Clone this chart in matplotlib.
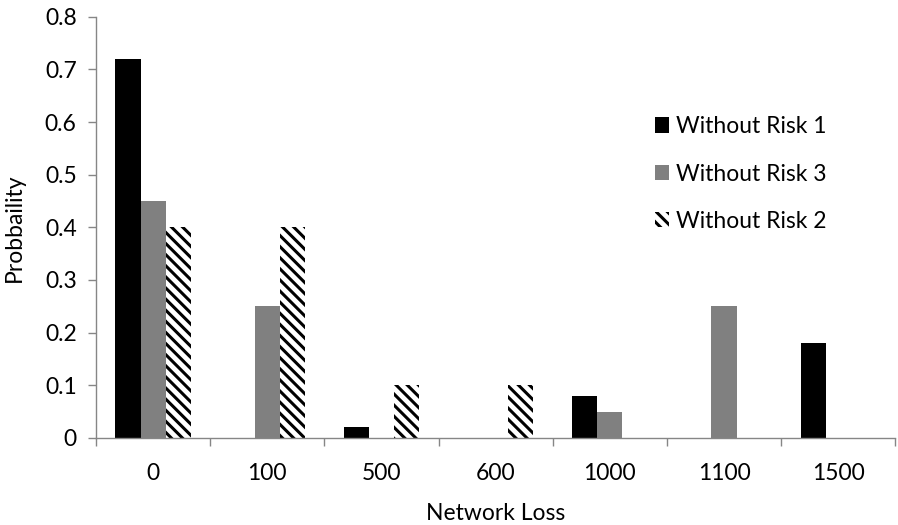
import matplotlib
matplotlib.use("Agg")
import matplotlib.pyplot as plt
import numpy as np

categories = ["0", "100", "500", "600", "1000", "1100", "1500"]
risk1 = [0.72, 0.0, 0.02, 0.0, 0.08, 0.0, 0.18]
risk3 = [0.45, 0.25, 0.0, 0.0, 0.05, 0.25, 0.0]
risk2 = [0.40, 0.40, 0.10, 0.10, 0.0, 0.0, 0.0]

plt.rcParams["font.family"] = ["Lato", "DejaVu Sans"]
plt.rcParams["hatch.linewidth"] = 2.2
plt.rcParams["hatch.color"] = "black"

fs = 16.5
fig = plt.figure(figsize=(8.98, 5.25), dpi=100)
ax = fig.add_axes([0.107, 0.166, 0.89, 0.802])

x = np.arange(len(categories))
w = 0.22
ax.bar(x - w, risk1, w, color="black", label="Without Risk 1")
ax.bar(x, risk3, w, color="#808080", label="Without Risk 3")
ax.bar(x + w, risk2, w, color="white", hatch="\\\\\\", edgecolor="black",
       linewidth=0, label="Without Risk 2")

ax.set_xlim(-0.5, len(categories) - 0.5)
ax.set_ylim(0, 0.8)
ax.set_yticks(np.arange(0, 0.81, 0.1))
ax.set_yticklabels(["0"] + [f"{v:.1f}" for v in np.arange(0.1, 0.81, 0.1)])
ax.set_xticks(x)
ax.set_xticklabels(categories)
ax.set_xticks(np.arange(-0.5, len(categories), 1.0), minor=True)
ax.tick_params(axis="x", which="major", length=0, pad=18, labelsize=fs)
ax.tick_params(axis="x", which="minor", length=6, color="#868686", width=1)
ax.tick_params(axis="y", length=6, color="#868686", width=1, labelsize=fs, pad=8)

for s in ["top", "right"]:
    ax.spines[s].set_visible(False)
for s in ["left", "bottom"]:
    ax.spines[s].set_color("#868686")
    ax.spines[s].set_linewidth(1)

ax.set_xlabel("Network Loss", fontsize=fs, labelpad=14)
ax.set_ylabel("Probbaility", fontsize=fs, labelpad=14)

ax.legend(loc="upper left", bbox_to_anchor=(0.673, 0.813), frameon=False,
          fontsize=fs, handlelength=0.65, handleheight=0.65, handletextpad=0.3,
          labelspacing=1.15)

fig.savefig("out.png", dpi=100)
